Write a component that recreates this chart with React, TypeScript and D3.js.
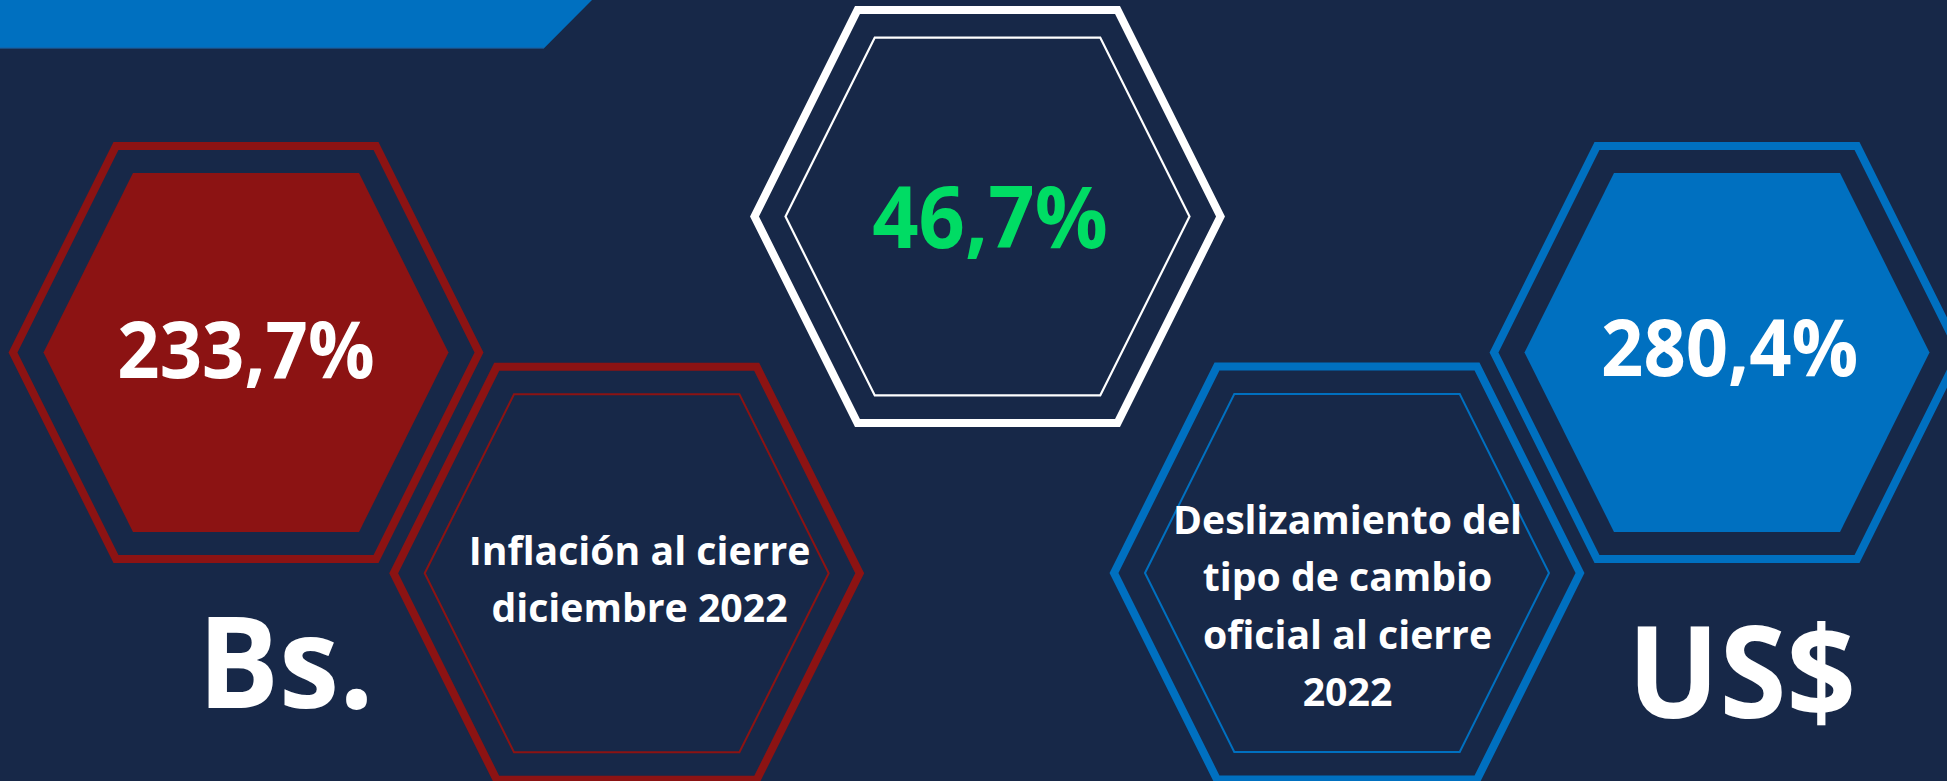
import React from "react";
import * as d3 from "d3";

const W = 1947;
const H = 781;

// ---- data ----
const values = ["233,7%", "46,7%", "280,4%"];
const labelInflation = ["Inflación al cierre", "diciembre 2022"];
const labelExchange = ["Deslizamiento del", "tipo de cambio", "oficial al cierre", "2022"];
const currencies = ["Bs.", "US$"];

const BG = "#172848";
const RED = "#8C1313";
const BLUE = "#0070C0";
const WHITE = "#FFFFFF";
const GREEN = "#00DC64";
const FONT = "'Open Sans', 'Noto Sans', sans-serif";

const line = d3.line<[number, number]>().curve(d3.curveLinearClosed);

function hexPath(cx: number, cy: number, hw: number) {
  const thw = hw * 0.558;
  const hh = hw * 0.886;
  const pts: [number, number][] = [
    [cx - hw, cy],
    [cx - thw, cy - hh],
    [cx + thw, cy - hh],
    [cx + hw, cy],
    [cx + thw, cy + hh],
    [cx - thw, cy + hh],
  ];
  return line(pts) as string;
}

type Hex = { cx: number; cy: number; color: string; filled: boolean; thin: number };

const hexes: Hex[] = [
  { cx: 246, cy: 352.5, color: RED, filled: true, thin: 0 },
  { cx: 626.7, cy: 573.3, color: RED, filled: false, thin: 2 },
  { cx: 987.5, cy: 216.5, color: WHITE, filled: false, thin: 2.2 },
  { cx: 1347, cy: 573, color: BLUE, filled: false, thin: 2 },
  { cx: 1727, cy: 352.5, color: BLUE, filled: true, thin: 0 },
];

function Txt(props: {
  x: number;
  y: number;
  size: number;
  fill: string;
  sx?: number;
  children: string;
}) {
  const { x, y, size, fill, children } = props;
  const sx = props.sx ?? 0.95;
  return (
    <text
      transform={`translate(${x},${y}) scale(${sx},1)`}
      textAnchor="middle"
      fontFamily={FONT}
      fontWeight={700}
      fontSize={size}
      fill={fill}
    >
      {children}
    </text>
  );
}

export default function App() {
  return (
    <svg
      width={W}
      height={H}
      viewBox={`0 0 ${W} ${H}`}
      style={{ position: "absolute", left: 0, top: 0, display: "block" }}
    >
      <rect x={0} y={0} width={W} height={H} fill={BG} />
      <path d={line([[0, 0], [592, 0], [544, 48.3], [0, 48.3]]) as string} fill={BLUE} />
      <line x1={0} x2={544} y1={48} y2={48} stroke="#1F5C9C" strokeWidth={1.2} />

      {hexes.map((h, i) => (
        <g key={i}>
          <path d={hexPath(h.cx, h.cy, 233)} fill="none" stroke={h.color} strokeWidth={8} />
          {h.filled ? (
            <path d={hexPath(h.cx, h.cy, 202.5)} fill={h.color} />
          ) : (
            <path d={hexPath(h.cx, h.cy, 202)} fill="none" stroke={h.color} strokeWidth={h.thin} />
          )}
        </g>
      ))}

      <Txt x={246} y={378} size={78} fill={WHITE}>{values[0]}</Txt>
      <Txt x={990} y={247.5} size={85.5} fill={GREEN}>{values[1]}</Txt>
      <Txt x={1729.7} y={376} size={78} fill={WHITE}>{values[2]}</Txt>

      {labelInflation.map((t, i) => (
        <Txt key={t} x={639.5} y={565 + i * 56.7} size={39.6} sx={0.99} fill={WHITE}>{t}</Txt>
      ))}
      {labelExchange.map((t, i) => (
        <Txt key={t} x={1347.5} y={534.3 + i * 57.1} size={39.2} sx={1.0} fill={WHITE}>{t}</Txt>
      ))}

      <Txt x={285.8} y={708.3} size={127.5} fill={WHITE}>{currencies[0]}</Txt>
      <Txt x={1741.7} y={718.3} size={128} fill={WHITE}>{currencies[1]}</Txt>
    </svg>
  );
}
